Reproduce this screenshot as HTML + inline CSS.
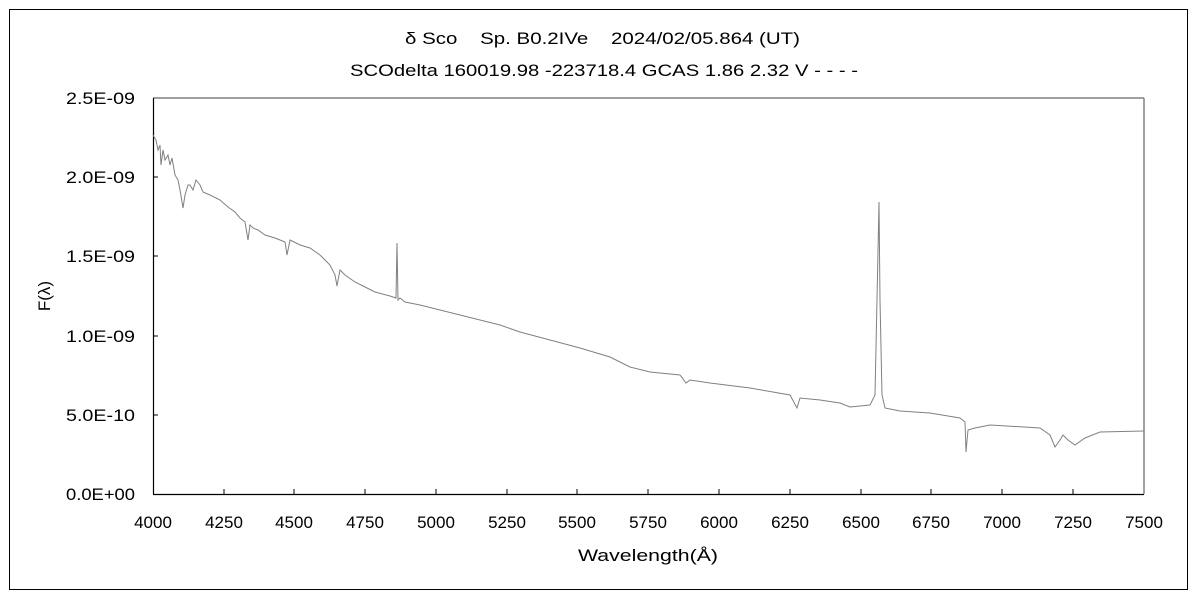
<!DOCTYPE html>
<html><head><meta charset="utf-8"><style>
body{margin:0;background:#fff;}
svg text{font-family:"Liberation Sans","Noto Sans CJK JP",sans-serif;fill:#000;}
</style></head><body>
<svg width="1200" height="600" xmlns="http://www.w3.org/2000/svg">
<rect x="9.5" y="9.5" width="1178" height="580" fill="#fff" stroke="#000" stroke-width="1"/>
<text x="405" y="44" font-size="17" textLength="395" lengthAdjust="spacingAndGlyphs" xml:space="preserve">δ Sco    Sp. B0.2IVe    2024/02/05.864 (UT)</text>
<text x="350" y="76" font-size="17" textLength="508" lengthAdjust="spacingAndGlyphs">SCOdelta 160019.98 -223718.4 GCAS 1.86 2.32 V - - - -</text>
<line x1="153" y1="98" x2="1144" y2="98" stroke="#808080" stroke-width="1.5"/>
<line x1="1144" y1="98" x2="1144" y2="494" stroke="#808080" stroke-width="1.5"/>
<line x1="153.5" y1="98" x2="153.5" y2="494" stroke="#000" stroke-width="1.2"/>
<line x1="153" y1="494.5" x2="1144" y2="494.5" stroke="#000" stroke-width="1.2"/>
<g stroke="#000" stroke-width="1">
<line x1="153" y1="177" x2="158" y2="177"/><line x1="153" y1="256" x2="158" y2="256"/><line x1="153" y1="336" x2="158" y2="336"/><line x1="153" y1="415" x2="158" y2="415"/>
<line x1="224" y1="494" x2="224" y2="489"/><line x1="294" y1="494" x2="294" y2="489"/><line x1="365" y1="494" x2="365" y2="489"/><line x1="436" y1="494" x2="436" y2="489"/><line x1="507" y1="494" x2="507" y2="489"/><line x1="577" y1="494" x2="577" y2="489"/><line x1="648" y1="494" x2="648" y2="489"/><line x1="719" y1="494" x2="719" y2="489"/><line x1="790" y1="494" x2="790" y2="489"/><line x1="861" y1="494" x2="861" y2="489"/><line x1="931" y1="494" x2="931" y2="489"/><line x1="1002" y1="494" x2="1002" y2="489"/><line x1="1073" y1="494" x2="1073" y2="489"/>
</g>
<g font-size="17">
<text x="66" y="104" textLength="69" lengthAdjust="spacingAndGlyphs">2.5E-09</text><text x="66" y="183" textLength="69" lengthAdjust="spacingAndGlyphs">2.0E-09</text><text x="66" y="262" textLength="69" lengthAdjust="spacingAndGlyphs">1.5E-09</text><text x="66" y="342" textLength="69" lengthAdjust="spacingAndGlyphs">1.0E-09</text><text x="66" y="421" textLength="69" lengthAdjust="spacingAndGlyphs">5.0E-10</text><text x="66" y="500" textLength="69" lengthAdjust="spacingAndGlyphs">0.0E+00</text>
</g>
<g font-size="17" text-anchor="middle">
<text x="153" y="528">4000</text><text x="224" y="528">4250</text><text x="294" y="528">4500</text><text x="365" y="528">4750</text><text x="436" y="528">5000</text><text x="507" y="528">5250</text><text x="577" y="528">5500</text><text x="648" y="528">5750</text><text x="719" y="528">6000</text><text x="790" y="528">6250</text><text x="861" y="528">6500</text><text x="931" y="528">6750</text><text x="1002" y="528">7000</text><text x="1073" y="528">7250</text><text x="1144" y="528">7500</text>
</g>
<text x="578" y="561" font-size="17" textLength="140" lengthAdjust="spacingAndGlyphs">Wavelength(Å)</text>
<text transform="translate(50,296) rotate(-90)" font-size="17" text-anchor="middle">F(λ)</text>
<polyline fill="none" stroke="#808080" stroke-width="1" points="153,135 156,140 158,150 160,145 161,165 163,150 165,160 168,155 170,165 172,158 175,175 178,180 180,190 183,208 185,195 188,185 190,185 193,190 196,180 200,185 203,192 210,195 220,200 228,207 235,212 240,218 245,222 248,240 250,225 253,228 258,230 265,235 275,238 285,242 287,255 290,240 300,245 310,248 320,255 325,260 330,265 335,275 337,286 340,270 345,275 355,282 365,287 375,292 390,296 396,298 397,243 398,300 400,298 405,302 420,305 440,310 460,315 480,320 500,325 520,332 550,340 580,348 610,357 630,367 650,372 680,375 686,383 690,380 710,383 750,388 790,395 797,408 800,398 820,400 840,403 850,407 870,405 875,395 877,300 879,202 880,300 882,395 885,408 900,411 930,413 960,418 965,422 966,452 968,430 975,428 990,425 1040,428 1050,435 1055,447 1060,440 1063,435 1068,440 1075,445 1085,438 1100,432 1144,431"/>
</svg>
</body></html>
